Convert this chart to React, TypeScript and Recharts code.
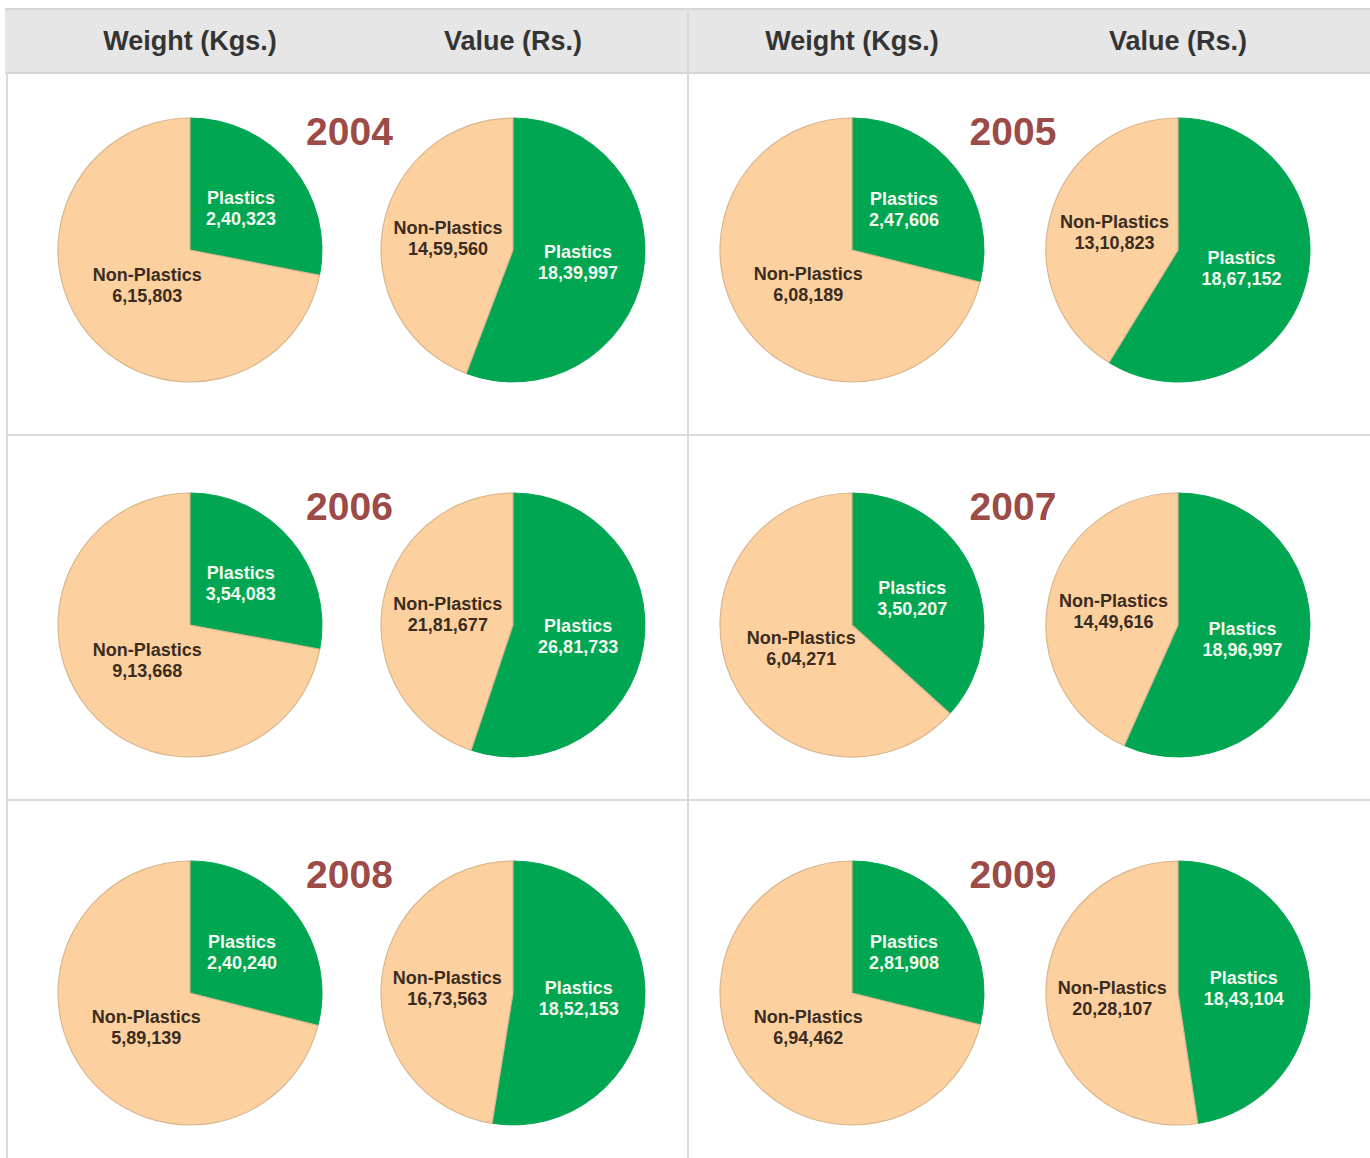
import { Cell, Pie, PieChart } from "recharts";

const years = ["2004", "2005", "2006", "2007", "2008", "2009"];
const weightPlastics = [240323, 247606, 354083, 350207, 240240, 281908];
const weightNonPlastics = [615803, 608189, 913668, 604271, 589139, 694462];
const valuePlastics = [1839997, 1867152, 2681733, 1896997, 1852153, 1843104];
const valueNonPlastics = [1459560, 1310823, 2181677, 1449616, 1673563, 2028107];
const headings = ["Weight (Kgs.)", "Value (Rs.)", "Weight (Kgs.)", "Value (Rs.)"];

const GREEN = "#00a651";
const PEACH = "#fdd19f";
const LINE = "#dadada";
const FONT = '"Liberation Sans", Arial, Helvetica, sans-serif';
const RADIAN = Math.PI / 180;

// pie centres on the page
const colCenters = [190, 513, 852, 1178];
const rowCenters = [250, 625, 993];
const RADIUS = 132;
const BOX = 300;

function formatIndian(n: number) {
  const s = String(n);
  if (s.length <= 3) return s;
  const last3 = s.slice(-3);
  let rest = s.slice(0, -3);
  const parts: string[] = [];
  while (rest.length > 2) {
    parts.unshift(rest.slice(-2));
    rest = rest.slice(0, -2);
  }
  if (rest) parts.unshift(rest);
  return parts.join(",") + "," + last3;
}

function renderLabel(props: any) {
  const { cx, cy, midAngle, outerRadius, percent } = props;
  const name = props.name ?? props.payload?.name;
  const value = props.value ?? props.payload?.value;
  // big slices keep their label a bit closer to the centre
  const r = outerRadius * (percent > 0.6 ? 0.42 : 0.5);
  const x = cx + r * Math.cos(-midAngle * RADIAN);
  const y = cy + r * Math.sin(-midAngle * RADIAN);
  const plastic = name === "Plastics";
  return (
    <text
      x={x}
      y={y}
      textAnchor="middle"
      fill={plastic ? "#f2f8ee" : "#3b2c22"}
      style={{ fontFamily: FONT, fontSize: 18, fontWeight: 700 }}
    >
      <tspan x={x} dy={-4}>{name}</tspan>
      <tspan x={x} dy={21}>{formatIndian(value)}</tspan>
    </text>
  );
}

function SplitPie({ plastics, nonPlastics, left, top }: { plastics: number; nonPlastics: number; left: number; top: number }) {
  const data = [
    { name: "Plastics", value: plastics },
    { name: "Non-Plastics", value: nonPlastics },
  ];
  return (
    <div style={{ position: "absolute", left, top, width: BOX, height: BOX }}>
      <PieChart width={BOX} height={BOX} margin={{ top: 0, right: 0, bottom: 0, left: 0 }}>
        <Pie
          data={data}
          dataKey="value"
          nameKey="name"
          cx={BOX / 2}
          cy={BOX / 2}
          outerRadius={RADIUS}
          startAngle={90}
          endAngle={-270}
          label={renderLabel}
          labelLine={false}
          isAnimationActive={false}
        >
          <Cell fill={GREEN} stroke={GREEN} strokeWidth={1} />
          <Cell fill={PEACH} stroke="#d9b68e" strokeWidth={1.2} />
        </Pie>
      </PieChart>
    </div>
  );
}

export default function App() {
  return (
    <div
      style={{
        position: "absolute",
        left: 0,
        top: 0,
        width: 1370,
        height: 1158,
        background: "#ffffff",
        overflow: "hidden",
        fontFamily: FONT,
      }}
    >
      {/* header band */}
      <div
        style={{
          position: "absolute",
          left: 5,
          top: 8,
          width: 1365,
          height: 62,
          background: "#e6e6e6",
          borderTop: "2px solid #d6d6d6",
          borderBottom: "2px solid #d6d6d6",
        }}
      />
      {headings.map((h, i) => (
        <div
          key={i}
          style={{
            position: "absolute",
            left: colCenters[i] - 150,
            top: 26,
            width: 300,
            textAlign: "center",
            fontSize: 27,
            fontWeight: 700,
            color: "#343434",
          }}
        >
          {h}
        </div>
      ))}

      {/* frame lines */}
      <div style={{ position: "absolute", left: 6, top: 72, width: 2, height: 1086, background: LINE }} />
      <div style={{ position: "absolute", left: 687, top: 8, width: 2, height: 1150, background: LINE }} />
      <div style={{ position: "absolute", left: 6, top: 434, width: 1364, height: 2, background: LINE }} />
      <div style={{ position: "absolute", left: 6, top: 799, width: 1364, height: 2, background: LINE }} />

      {years.map((year, i) => {
        const row = Math.floor(i / 2);
        const side = i % 2;
        const cy = rowCenters[row];
        const wx = colCenters[side * 2];
        const vx = colCenters[side * 2 + 1];
        return (
          <div key={year}>
            <SplitPie plastics={weightPlastics[i]} nonPlastics={weightNonPlastics[i]} left={wx - BOX / 2} top={cy - BOX / 2} />
            <SplitPie plastics={valuePlastics[i]} nonPlastics={valueNonPlastics[i]} left={vx - BOX / 2} top={cy - BOX / 2} />
            <div
              style={{
                position: "absolute",
                left: (wx + vx) / 2 - 2 - 60,
                top: cy - 140,
                width: 120,
                textAlign: "center",
                fontSize: 39,
                fontWeight: 700,
                color: "#9c4b47",
              }}
            >
              {year}
            </div>
          </div>
        );
      })}
    </div>
  );
}
